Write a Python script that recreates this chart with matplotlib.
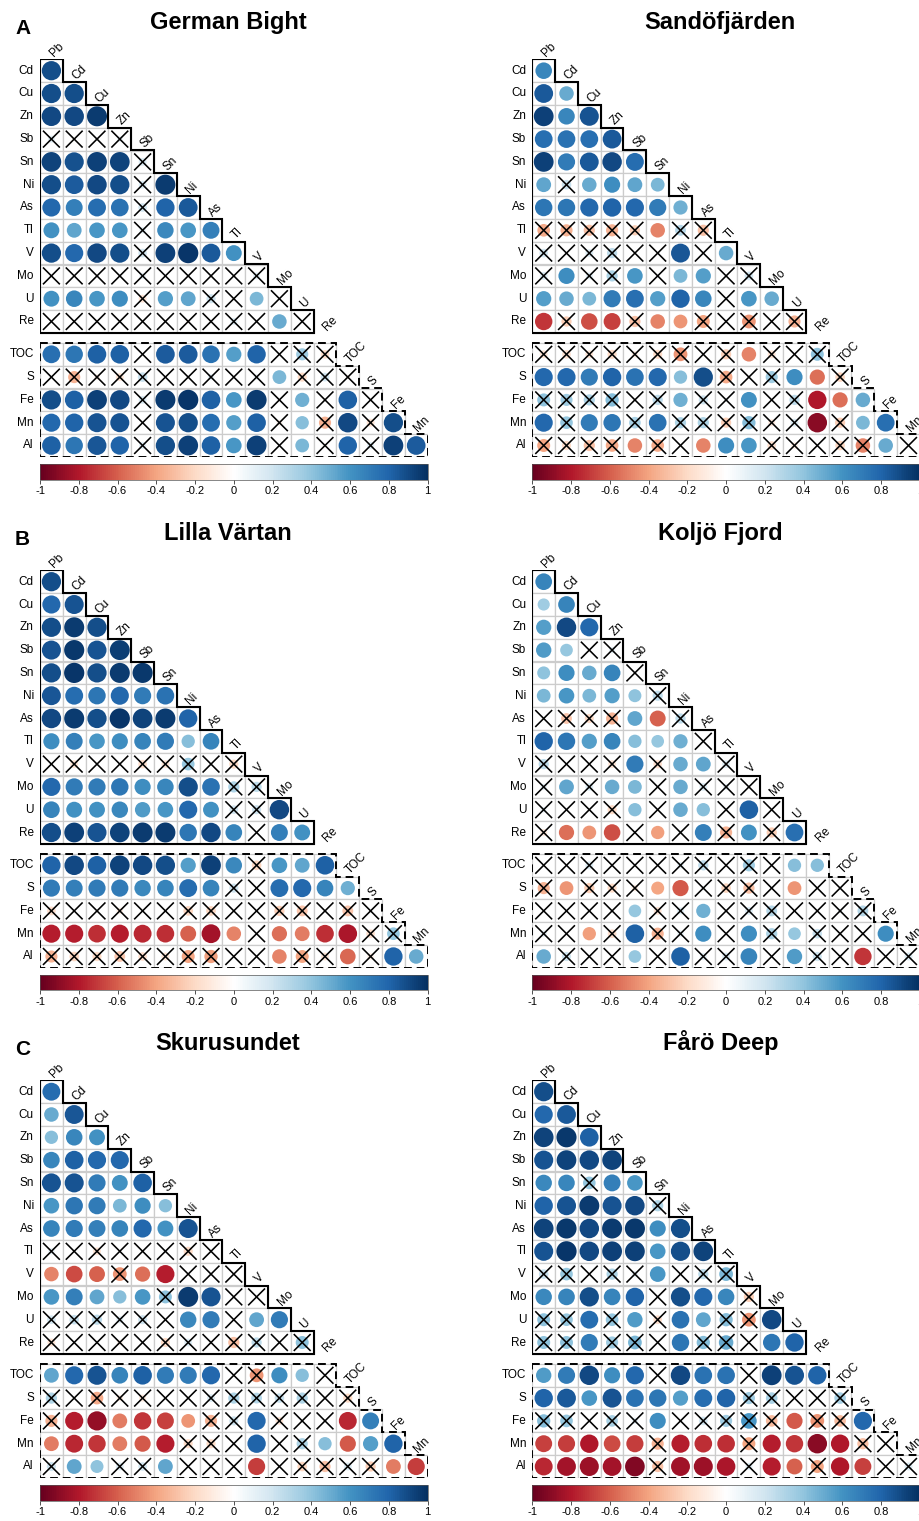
import numpy as np
import matplotlib
matplotlib.use("Agg")
import matplotlib.pyplot as plt
from matplotlib.colors import LinearSegmentedColormap, Normalize
from matplotlib.patches import Circle, Rectangle, Polygon
from matplotlib.cm import ScalarMappable

plt.rcParams['font.family'] = ['Liberation Sans', 'DejaVu Sans']

# ---------------------------------------------------------------- data
VARIABLES = ["Pb", "Cd", "Cu", "Zn", "Sb", "Sn", "Ni", "As", "Tl", "V",
             "Mo", "U", "Re", "TOC", "S", "Fe", "Mn", "Al"]
N_TRACE_ROWS = 12          # rows Cd..Re (trace elements vs trace elements)

# Lower-triangle Spearman coefficients, one list per row (Cd ... Al),
# and matching flags: 'x' = not significant, '.' = significant.
GERMAN_BIGHT_R = [
    [0.88],
    [0.88, 0.88],
    [0.90, 0.90, 0.95],
    [0.12, 0.02, 0.03, 0.08],
    [0.92, 0.87, 0.93, 0.92, 0.15],
    [0.88, 0.83, 0.90, 0.88, 0.15, 0.95],
    [0.78, 0.68, 0.76, 0.74, 0.18, 0.80, 0.84],
    [0.60, 0.52, 0.58, 0.58, 0.10, 0.64, 0.58, 0.68],
    [0.88, 0.78, 0.90, 0.88, 0.18, 0.93, 0.97, 0.84, 0.60],
    [0.03, 0.00, 0.00, 0.02, 0.10, 0.00, 0.00, 0.00, 0.02, 0.12],
    [0.60, 0.65, 0.58, 0.62, -0.15, 0.55, 0.52, 0.20, 0.00, 0.45, 0.00],
    [0.00, 0.00, 0.00, 0.00, 0.00, 0.02, -0.05, -0.02, 0.12, 0.03, 0.50, 0.00],
    [0.75, 0.72, 0.82, 0.82, 0.00, 0.83, 0.83, 0.74, 0.55, 0.80, 0.00, 0.35, -0.18],
    [0.00, -0.35, -0.08, -0.15, 0.22, 0.00, 0.00, 0.10, 0.00, 0.08, 0.45, -0.20, 0.18, -0.05],
    [0.88, 0.82, 0.93, 0.90, 0.15, 0.95, 0.97, 0.82, 0.58, 0.95, 0.00, 0.48, 0.00, 0.82, 0.00],
    [0.78, 0.80, 0.86, 0.86, 0.00, 0.86, 0.88, 0.76, 0.55, 0.82, -0.08, 0.42, -0.35, 0.90, -0.15, 0.88],
    [0.82, 0.72, 0.85, 0.80, 0.12, 0.88, 0.93, 0.82, 0.58, 0.93, 0.00, 0.45, -0.05, 0.80, 0.12, 0.93, 0.83],
]
GERMAN_BIGHT_NS = [
    ".", "..", "...", "xxxx", "....x", "....x.", "....x..", "....x...",
    "....x....", "xxxxxxxxxx", "....x..xx.x", "xxxxxxxxxx.x",
    "....x.....xxx", "xxxxxxxxxx.xxx", "....x.....x.x.x",
    "....x.....x.x.x.", "....x.....x.x.x..",
]

SANDOFJARDEN_R = [
    [0.65],
    [0.84, 0.50],
    [0.93, 0.65, 0.86],
    [0.75, 0.74, 0.75, 0.84],
    [0.93, 0.70, 0.84, 0.90, 0.76],
    [0.52, 0.22, 0.50, 0.62, 0.52, 0.45],
    [0.72, 0.72, 0.78, 0.80, 0.78, 0.70, 0.48],
    [-0.38, -0.35, -0.30, -0.35, -0.25, -0.50, 0.28, -0.30],
    [0.18, 0.00, 0.15, 0.25, 0.00, 0.00, 0.85, 0.00, 0.50],
    [0.15, 0.62, 0.12, 0.30, 0.58, 0.05, 0.45, 0.55, 0.00, 0.18],
    [0.55, 0.50, 0.45, 0.70, 0.75, 0.55, 0.80, 0.65, 0.00, 0.58, 0.50],
    [-0.72, -0.25, -0.65, -0.68, -0.30, -0.50, -0.45, -0.40, 0.00, -0.45, 0.00, -0.35],
    [-0.15, -0.18, -0.15, -0.20, -0.10, -0.20, -0.45, 0.00, -0.25, -0.50, -0.15, 0.00, 0.40],
    [0.78, 0.78, 0.70, 0.80, 0.74, 0.78, 0.42, 0.88, -0.38, 0.00, 0.35, 0.62, -0.55, -0.22],
    [0.40, 0.35, 0.30, 0.42, 0.00, 0.25, 0.48, 0.20, 0.05, 0.60, 0.00, 0.25, -0.80, -0.55, 0.50],
    [0.78, 0.38, 0.70, 0.72, 0.32, 0.74, 0.30, 0.30, -0.25, 0.42, -0.12, 0.15, -0.90, -0.25, 0.45, 0.75],
    [-0.40, -0.20, -0.30, -0.38, -0.50, -0.38, 0.00, -0.50, 0.62, 0.58, -0.18, -0.10, 0.00, -0.22, -0.50, 0.50, 0.00],
]
SANDOFJARDEN_NS = [
    ".", "..", "...", "....", ".....", ".x....", ".......", "xxxxx.xx",
    "xxxxxx.x.", "x.xx.x..xx", "........x..", ".x..x..xxxxx",
    "xxxxxxxxx.xxx", "........xxx..x", "xxxxxx.xx.xx...",
    ".x..x.xxxxxx.x..", "xxxx.xx...xxxxx.x",
]

LILLA_VARTAN_R = [
    [0.88],
    [0.78, 0.86],
    [0.88, 0.95, 0.88],
    [0.86, 0.96, 0.86, 0.94],
    [0.88, 0.97, 0.88, 0.95, 0.96],
    [0.85, 0.76, 0.72, 0.78, 0.70, 0.74],
    [0.90, 0.95, 0.88, 0.97, 0.92, 0.95, 0.80],
    [0.62, 0.68, 0.58, 0.62, 0.66, 0.70, 0.42, 0.66],
    [0.00, -0.15, 0.00, 0.00, -0.18, -0.15, 0.38, 0.00, -0.20],
    [0.78, 0.70, 0.70, 0.72, 0.62, 0.65, 0.88, 0.74, 0.30, 0.25],
    [0.66, 0.60, 0.60, 0.64, 0.56, 0.58, 0.78, 0.60, 0.18, 0.20, 0.90],
    [0.88, 0.93, 0.86, 0.92, 0.95, 0.95, 0.72, 0.90, 0.66, 0.00, 0.68, 0.60],
    [0.80, 0.90, 0.82, 0.92, 0.90, 0.88, 0.55, 0.93, 0.64, -0.22, 0.58, 0.52, 0.82],
    [0.70, 0.68, 0.70, 0.70, 0.64, 0.66, 0.76, 0.66, 0.20, 0.00, 0.76, 0.78, 0.66, 0.48],
    [-0.18, 0.00, 0.00, -0.10, 0.00, 0.00, -0.22, -0.22, 0.00, 0.00, -0.25, -0.28, 0.00, -0.28, 0.00],
    [-0.78, -0.78, -0.74, -0.78, -0.76, -0.74, -0.60, -0.84, -0.50, 0.00, -0.55, -0.52, -0.74, -0.82, -0.18, 0.38],
    [-0.35, -0.22, -0.20, -0.28, -0.18, -0.15, -0.40, -0.42, 0.00, 0.00, -0.50, -0.40, -0.15, -0.58, -0.10, 0.80, 0.50],
]
LILLA_VARTAN_NS = [
    ".", "..", "...", "....", ".....", "......", ".......", "........",
    "xxxxxxxxx", "........xx", "........xx.", ".........x..",
    ".........x...", "........xx....", "xxxxxxxxxxxxxxx",
    ".........x....xx", "xxxxxxxxxx.xx.x..",
]

KOLJO_FJORD_R = [
    [0.66],
    [0.35, 0.66],
    [0.55, 0.90, 0.78],
    [0.56, 0.38, 0.00, 0.10],
    [0.40, 0.62, 0.50, 0.66, 0.00],
    [0.45, 0.58, 0.45, 0.55, 0.40, 0.25],
    [0.00, -0.28, -0.20, -0.35, 0.52, -0.60, 0.25],
    [0.80, 0.72, 0.55, 0.66, 0.42, 0.38, 0.48, 0.00],
    [0.25, 0.00, 0.00, -0.15, 0.70, -0.18, 0.50, 0.52, 0.15],
    [0.10, 0.52, 0.15, 0.50, 0.45, 0.00, 0.50, 0.15, 0.10, 0.00],
    [0.08, 0.00, 0.00, -0.20, 0.42, 0.00, 0.50, 0.42, 0.00, 0.82, 0.00],
    [-0.12, -0.55, -0.45, -0.65, 0.00, -0.42, 0.05, 0.68, -0.35, 0.60, -0.25, 0.75],
    [0.00, 0.00, 0.15, 0.00, 0.00, 0.00, 0.10, 0.25, 0.00, 0.35, 0.00, 0.42, 0.42],
    [-0.35, -0.45, -0.25, -0.20, -0.10, -0.40, -0.62, 0.05, -0.22, -0.30, 0.00, -0.45, 0.00, 0.00],
    [0.00, 0.00, 0.00, 0.00, 0.38, -0.15, 0.12, 0.48, 0.00, 0.15, 0.28, 0.00, 0.00, 0.05, 0.28],
    [0.10, 0.00, -0.42, -0.18, 0.82, -0.35, 0.10, 0.62, 0.00, 0.62, 0.30, 0.38, 0.22, 0.00, 0.00, 0.62],
    [0.50, 0.20, 0.00, 0.00, 0.38, 0.00, 0.82, 0.12, 0.15, 0.66, 0.00, 0.56, 0.20, 0.00, -0.72, 0.00, 0.15],
]
KOLJO_FJORD_NS = [
    ".", "..", "...", "..xx", "....x", ".....x", "xxxx..x", ".......x",
    "xxxx.x..x", "x.x..x.xxx", "xxxx.x..x.x", "x...x.x.x.x.",
    "xxxxxxxxxxx..", "x.xxx..xxxx.xx", "xxxx.xx.xxxxxxx",
    "xx.x.xx.x.x.xxx.", ".xxx.x.xx.x.xx.xx",
]

SKURUSUNDET_R = [
    [0.76],
    [0.50, 0.85],
    [0.42, 0.65, 0.60],
    [0.65, 0.82, 0.78, 0.78],
    [0.86, 0.86, 0.70, 0.60, 0.82],
    [0.58, 0.72, 0.70, 0.45, 0.62, 0.42],
    [0.66, 0.70, 0.68, 0.66, 0.78, 0.60, 0.86],
    [0.10, 0.00, -0.15, 0.00, 0.00, 0.05, -0.20, 0.00],
    [-0.50, -0.66, -0.60, -0.45, -0.55, -0.78, 0.00, 0.00, 0.00],
    [0.58, 0.68, 0.52, 0.42, 0.58, 0.40, 0.95, 0.86, 0.00, 0.00],
    [0.18, 0.22, 0.25, 0.12, 0.20, 0.00, 0.64, 0.70, 0.00, 0.52, 0.70],
    [-0.15, 0.00, 0.00, -0.08, 0.00, -0.20, 0.15, 0.00, -0.30, 0.25, 0.00, 0.40],
    [0.52, 0.78, 0.86, 0.66, 0.82, 0.70, 0.70, 0.78, 0.00, -0.45, 0.62, 0.42, 0.00],
    [0.30, 0.00, -0.38, -0.10, -0.12, 0.00, 0.00, 0.15, 0.30, 0.28, 0.22, 0.30, 0.00, -0.20],
    [-0.35, -0.78, -0.88, -0.52, -0.72, -0.68, -0.45, -0.35, 0.20, 0.78, -0.15, 0.00, 0.00, -0.76, 0.68],
    [-0.52, -0.76, -0.72, -0.52, -0.62, -0.78, -0.20, -0.20, 0.00, 0.80, 0.00, 0.30, 0.42, -0.62, 0.55, 0.80],
    [0.20, 0.52, 0.40, 0.15, 0.18, 0.52, 0.00, 0.00, 0.00, -0.70, 0.00, -0.22, -0.30, 0.15, -0.25, -0.52, -0.70],
]
SKURUSUNDET_NS = [
    ".", "..", "...", "....", ".....", "......", ".......", "xxxxxxxx",
    "...x..xxx", ".....x..xx", "xxxxxx..x..", "xxxxxxxxxxxx",
    "........xx..x", "xxxxxxxxxxxxxx", "x......xx.xxx..",
    "......xxx.xx....", "x..xx.xxx.xxxxx..",
]

FARO_DEEP_R = [
    [0.88],
    [0.78, 0.84],
    [0.92, 0.96, 0.82],
    [0.86, 0.92, 0.90, 0.92],
    [0.64, 0.65, 0.38, 0.68, 0.58],
    [0.80, 0.86, 0.95, 0.86, 0.90, 0.30],
    [0.92, 0.96, 0.90, 0.95, 0.96, 0.62, 0.88],
    [0.86, 0.97, 0.90, 0.93, 0.93, 0.58, 0.88, 0.92],
    [0.22, 0.38, 0.00, 0.30, 0.10, 0.58, 0.00, 0.25, 0.45],
    [0.64, 0.66, 0.88, 0.66, 0.80, 0.00, 0.88, 0.78, 0.65, -0.25],
    [0.40, 0.38, 0.76, 0.38, 0.56, -0.18, 0.74, 0.52, 0.42, -0.45, 0.90],
    [0.40, 0.40, 0.70, 0.35, 0.45, 0.00, 0.72, 0.42, 0.50, 0.00, 0.72, 0.80],
    [0.56, 0.70, 0.90, 0.62, 0.78, 0.00, 0.90, 0.74, 0.74, 0.00, 0.93, 0.86, 0.80],
    [0.80, 0.84, 0.58, 0.86, 0.74, 0.72, 0.55, 0.76, 0.80, 0.35, 0.32, 0.00, 0.00, 0.32],
    [0.42, 0.38, 0.00, 0.32, 0.10, 0.62, 0.00, 0.18, 0.35, 0.58, -0.32, -0.62, -0.45, -0.32, 0.78],
    [-0.68, -0.70, -0.80, -0.66, -0.70, -0.35, -0.78, -0.74, -0.74, -0.40, -0.78, -0.72, -0.90, -0.80, -0.30, 0.00],
    [-0.76, -0.84, -0.86, -0.84, -0.92, -0.30, -0.85, -0.86, -0.82, 0.12, -0.78, -0.60, -0.40, -0.80, -0.68, 0.00, 0.15],
]
FARO_DEEP_NS = [
    ".", "..", "...", "....", "..x..", ".....x", ".......", "........",
    "xxxxx.xxx", ".....x...x", "xx.x.x..xx.", "xx.xxx.xxx..",
    ".....x...x...", ".........xxxxx", "xxxxx.xxxxx.xx.",
    ".....x...x....xx", ".....x...x..x..xx",
]

PANELS = [
    ("A", "German Bight", GERMAN_BIGHT_R, GERMAN_BIGHT_NS),
    (None, "Sandöfjärden", SANDOFJARDEN_R, SANDOFJARDEN_NS),
    ("B", "Lilla Värtan", LILLA_VARTAN_R, LILLA_VARTAN_NS),
    (None, "Koljö Fjord", KOLJO_FJORD_R, KOLJO_FJORD_NS),
    ("C", "Skurusundet", SKURUSUNDET_R, SKURUSUNDET_NS),
    (None, "Fårö Deep", FARO_DEEP_R, FARO_DEEP_NS),
]

PALETTE = ["#67001F", "#B2182B", "#D6604D", "#F4A582", "#FDDBC7", "#FFFFFF",
           "#D1E5F0", "#92C5DE", "#4393C3", "#2166AC", "#053061"]
CBAR_TICKS = [-1, -0.8, -0.6, -0.4, -0.2, 0, 0.2, 0.4, 0.6, 0.8, 1]

# ---------------------------------------------------------------- layout (pixels)
W, H, DPI = 920, 1521, 100
CELL = 22.8
GAP = 10.0 / CELL                   # gap between the two blocks, in cell units
N = len(VARIABLES) - 1              # 17 rows / columns
COL_X0 = [40.0, 532.3]
ROW_Y0 = [59.3, 570.3, 1080.3]

cmap = LinearSegmentedColormap.from_list("corr", PALETTE, N=200)
norm = Normalize(-1, 1)

fig = plt.figure(figsize=(W / DPI, H / DPI), dpi=DPI)
fig.patch.set_facecolor("white")


def row_top(i):
    return i + (GAP if i >= N_TRACE_ROWS else 0.0)


def draw_panel(ax, values, flags):
    ax.set_xlim(0, N)
    ax.set_ylim(N + GAP, 0)
    ax.axis("off")
    for i, (row, fl) in enumerate(zip(values, flags)):
        assert len(row) == i + 1 and len(fl) == i + 1, (i, len(row), len(fl))
        t = row_top(i)
        for j, r in enumerate(row):
            ax.add_patch(Rectangle((j, t), 1, 1, facecolor="white",
                                   edgecolor="#cccccc", lw=0.9, zorder=1))
            ax.add_patch(Circle((j + 0.5, t + 0.5), 0.45 * np.sqrt(abs(r)),
                                facecolor=cmap(norm(r)), edgecolor="none",
                                zorder=2))
            if fl[j] == "x":
                d = 0.37
                cx, cy = j + 0.5, t + 0.5
                ax.plot([cx - d, cx + d], [cy - d, cy + d], color="black",
                        lw=1.15, zorder=3, solid_capstyle="butt")
                ax.plot([cx - d, cx + d], [cy + d, cy - d], color="black",
                        lw=1.15, zorder=3, solid_capstyle="butt")
        # row label
        ax.text(-0.27, t + 0.5, VARIABLES[i + 1], ha="right", va="center",
                fontsize=8.5, clip_on=False)

    # column labels, above the first cell of each column
    for j in range(N):
        y = j - 0.1 + (GAP if j > N_TRACE_ROWS else 0.0)
        ax.text(j + 0.6, y, VARIABLES[j], rotation=45, rotation_mode="anchor",
                ha="left", va="baseline", fontsize=8.5, clip_on=False)

    # solid outline around the trace-element triangle
    pts = [(0, 0)]
    for k in range(1, N_TRACE_ROWS + 1):
        pts += [(k, k - 1), (k, k)]
    pts += [(0, N_TRACE_ROWS)]
    ax.add_patch(Polygon(pts, closed=True, fill=False, edgecolor="black",
                         lw=1.5, zorder=4, joinstyle="miter"))

    # dashed outline around the TOC / S / Fe / Mn / Al block
    g = GAP
    pts = [(0, N_TRACE_ROWS + g)]
    for k in range(N_TRACE_ROWS + 1, N + 1):
        pts += [(k, k - 1 + g), (k, k + g)]
    pts += [(0, N + g)]
    ax.add_patch(Polygon(pts, closed=True, fill=False, edgecolor="black",
                         lw=1.4, zorder=4, linestyle=(0, (4, 2.5)),
                         joinstyle="miter"))


for p, (letter, title, vals, flags) in enumerate(PANELS):
    r, c = divmod(p, 2)
    x0, y0 = COL_X0[c], ROW_Y0[r]
    wpx = N * CELL
    hpx = (N + GAP) * CELL
    ax = fig.add_axes([x0 / W, 1 - (y0 + hpx) / H, wpx / W, hpx / H])
    draw_panel(ax, vals, flags)

    # colour bar
    cb_top = y0 + 404.7
    cb_h = 15.5
    cax = fig.add_axes([x0 / W, 1 - (cb_top + cb_h) / H, wpx / W, cb_h / H])
    cb = fig.colorbar(ScalarMappable(norm=norm, cmap=cmap), cax=cax,
                      orientation="horizontal", ticks=CBAR_TICKS)
    cb.ax.set_xticklabels([f"{t:g}" for t in CBAR_TICKS], fontsize=8)
    cb.ax.tick_params(length=3, width=0.6, pad=2, color="#333333")
    cb.outline.set_linewidth(0.5)
    cb.outline.set_edgecolor("#555555")

    # titles
    fig.text((x0 + 188) / W, 1 - (y0 - 30.0) / H, title, ha="center",
             va="baseline", fontsize=17, fontweight="bold")
    if letter:
        fig.text(15 / W, 1 - (y0 - 25.5) / H, letter, ha="left",
                 va="baseline", fontsize=15, fontweight="bold")

fig.savefig("out.png", dpi=DPI)
